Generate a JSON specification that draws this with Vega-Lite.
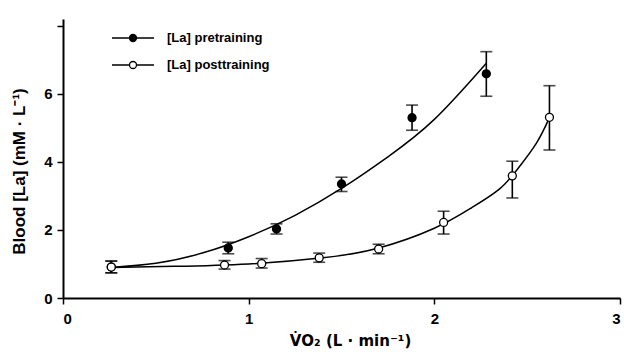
{
  "$schema": "https://vega.github.io/schema/vega-lite/v6.json",
  "width": 557,
  "height": 279,
  "autosize": "none",
  "padding": {"left": 63, "top": 19, "right": 4, "bottom": 65},
  "background": "white",
  "config": {
    "view": {"stroke": null},
    "font": "Liberation Sans",
    "axis": {
      "grid": false,
      "domainColor": "black",
      "domainWidth": 2,
      "tickColor": "black",
      "tickWidth": 1.5,
      "tickSize": 6,
      "labelFont": "Liberation Sans",
      "labelFontWeight": "bold",
      "labelFontSize": 15,
      "labelColor": "black",
      "titleFont": "Liberation Sans",
      "titleFontWeight": "bold",
      "titleFontSize": 17,
      "titleColor": "black"
    }
  },
  "datasets": {
    "pts": [
      {"series": "[La] pretraining", "x": 0.26, "y": 0.91, "lo": 0.74, "hi": 1.08},
      {"series": "[La] pretraining", "x": 0.89, "y": 1.47, "lo": 1.30, "hi": 1.64},
      {"series": "[La] pretraining", "x": 1.15, "y": 2.03, "lo": 1.88, "hi": 2.18},
      {"series": "[La] pretraining", "x": 1.50, "y": 3.35, "lo": 3.13, "hi": 3.55},
      {"series": "[La] pretraining", "x": 1.88, "y": 5.30, "lo": 4.93, "hi": 5.67},
      {"series": "[La] pretraining", "x": 2.28, "y": 6.59, "lo": 5.93, "hi": 7.24},
      {"series": "[La] posttraining", "x": 0.26, "y": 0.91, "lo": 0.74, "hi": 1.09},
      {"series": "[La] posttraining", "x": 0.87, "y": 0.97, "lo": 0.85, "hi": 1.10},
      {"series": "[La] posttraining", "x": 1.07, "y": 1.01, "lo": 0.88, "hi": 1.16},
      {"series": "[La] posttraining", "x": 1.38, "y": 1.18, "lo": 1.05, "hi": 1.32},
      {"series": "[La] posttraining", "x": 1.70, "y": 1.44, "lo": 1.30, "hi": 1.58},
      {"series": "[La] posttraining", "x": 2.05, "y": 2.22, "lo": 1.88, "hi": 2.55},
      {"series": "[La] posttraining", "x": 2.42, "y": 3.59, "lo": 2.94, "hi": 4.02},
      {"series": "[La] posttraining", "x": 2.62, "y": 5.31, "lo": 4.35, "hi": 6.24}
    ],
    "curves": [
      {"series": "pre", "x": 0.26, "y": 0.9},
      {"series": "pre", "x": 0.5, "y": 1.02},
      {"series": "pre", "x": 0.75, "y": 1.32},
      {"series": "pre", "x": 1.0, "y": 1.8},
      {"series": "pre", "x": 1.25, "y": 2.43},
      {"series": "pre", "x": 1.5, "y": 3.22},
      {"series": "pre", "x": 1.75, "y": 4.15},
      {"series": "pre", "x": 2.0, "y": 5.25},
      {"series": "pre", "x": 2.28, "y": 6.9},
      {"series": "post", "x": 0.26, "y": 0.9},
      {"series": "post", "x": 0.6, "y": 0.93},
      {"series": "post", "x": 1.0, "y": 1.0},
      {"series": "post", "x": 1.4, "y": 1.18},
      {"series": "post", "x": 1.7, "y": 1.47},
      {"series": "post", "x": 2.0, "y": 2.05},
      {"series": "post", "x": 2.2, "y": 2.65},
      {"series": "post", "x": 2.35, "y": 3.2},
      {"series": "post", "x": 2.45, "y": 3.8},
      {"series": "post", "x": 2.55, "y": 4.55},
      {"series": "post", "x": 2.62, "y": 5.3}
    ]
  },
  "layer": [
    {
      "data": {"name": "curves"},
      "mark": {"type": "line", "color": "black", "strokeWidth": 1.5, "interpolate": "natural"},
      "encoding": {
        "x": {"field": "x", "type": "quantitative", "title": "V̇O₂ (L · min⁻¹)", "scale": {"domain": [0, 3], "nice": false},
          "axis": {"values": [0, 1, 2, 3], "format": "d", "labelPadding": 7, "titlePadding": 7, "titleX": 287, "titleFont": "DejaVu Sans", "titleFontSize": 15}},
        "y": {"field": "y", "type": "quantitative", "title": "Blood [La] (mM · L⁻¹)", "scale": {"domain": [0, 8.2], "nice": false},
          "axis": {"values": [0, 1, 2, 3, 4, 5, 6, 7, 8], "format": "d", "labelExpr": "datum.value % 2 === 0 && datum.value < 8 ? datum.label : ''", "labelPadding": 5, "titlePadding": 15, "titleY": 152}},
        "detail": {"field": "series"}
      }
    },
    {
      "data": {"name": "pts"},
      "mark": {"type": "errorbar", "color": "black", "thickness": 1.6, "ticks": {"size": 12, "color": "black", "thickness": 1.6}},
      "encoding": {
        "x": {"field": "x", "type": "quantitative", "title": "V̇O₂ (L · min⁻¹)"},
        "y": {"field": "lo", "type": "quantitative", "title": "Blood [La] (mM · L⁻¹)"},
        "y2": {"field": "hi"},
        "detail": {"field": "series"}
      }
    },
    {
      "data": {"name": "pts"},
      "mark": {"type": "point", "filled": true, "stroke": "black", "strokeWidth": 1.3, "size": 64, "opacity": 1},
      "encoding": {
        "x": {"field": "x", "type": "quantitative", "title": "V̇O₂ (L · min⁻¹)"},
        "y": {"field": "y", "type": "quantitative", "title": "Blood [La] (mM · L⁻¹)"},
        "fill": {"field": "series", "type": "nominal",
          "scale": {"domain": ["[La] pretraining", "[La] posttraining"], "range": ["black", "white"]},
          "legend": {
            "title": null,
            "orient": "none",
            "legendX": 48,
            "legendY": 11,
            "padding": 0,
            "symbolType": "M-1,0 L1.5,0 M2.5,0 L5,0 M2.5,0 A0.5,0.5 0 1,1 1.5,0 A0.5,0.5 0 1,1 2.5,0 Z",
            "symbolSize": 196,
            "symbolStrokeColor": "black",
            "symbolStrokeWidth": 1.3,
            "symbolOpacity": 1,
            "labelOffset": 40,
            "rowPadding": 12,
            "labelFont": "Liberation Sans",
            "labelFontWeight": "bold",
            "labelFontSize": 13,
            "labelColor": "black",
            "labelLimit": 300
          }
        }
      }
    }
  ]
}
